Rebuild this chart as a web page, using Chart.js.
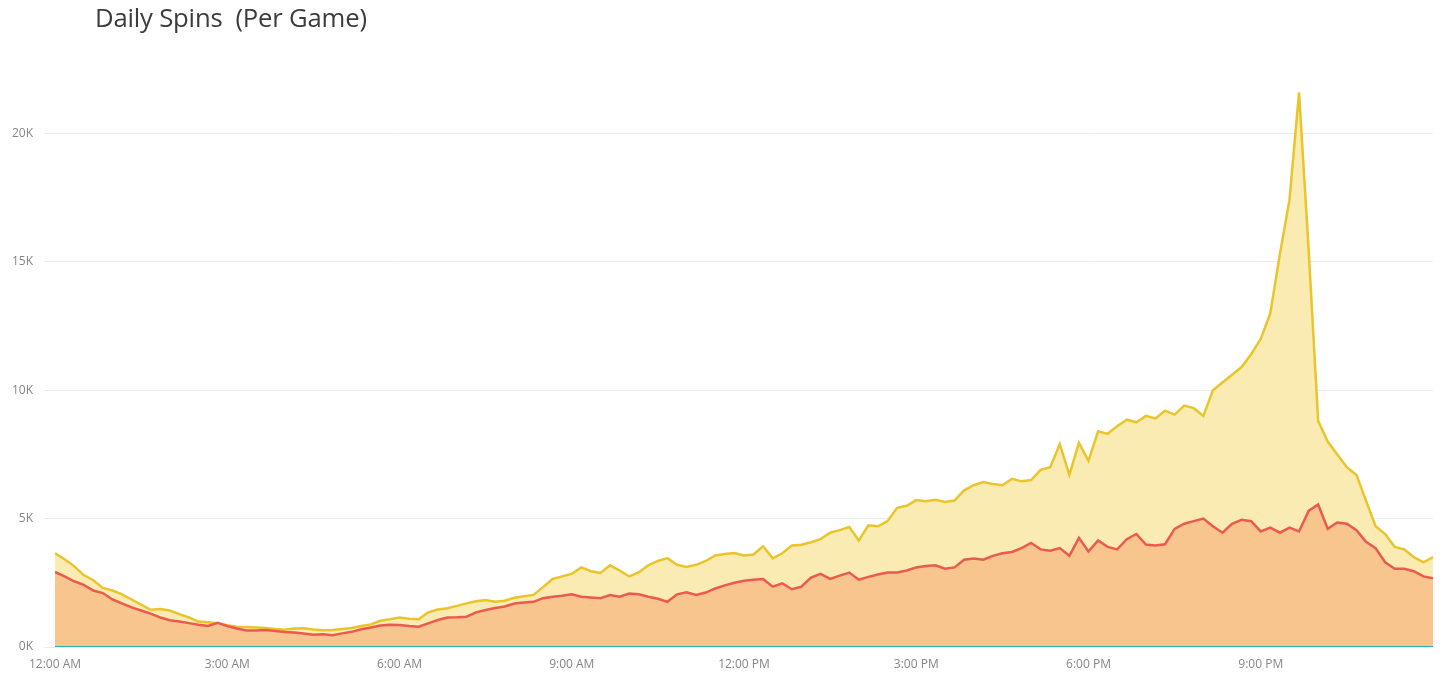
<!DOCTYPE html>
<html>
<head>
<meta charset="utf-8">
<script src="https://cdn.jsdelivr.net/npm/chart.js@4.4.1/dist/chart.umd.min.js"></script>
<style>
  html, body { margin: 0; padding: 0; background: #ffffff; }
  #wrap { position: absolute; left: 0; top: 0; width: 1442px; height: 675px; }
  #title { position: absolute; left: 95px; top: 0px; font-family: "Open Sans", "Noto Sans", sans-serif; font-size: 25.7px; color: #3c3c3c; white-space: pre; letter-spacing: -0.2px; }
  #chartBox { position: absolute; left: 0; top: 0; width: 1442px; height: 675px; }
</style>
</head>
<body>
<div id="wrap">
  <div id="chartBox"><canvas id="c" width="1442" height="675"></canvas></div>
  <div id="title">Daily Spins  (Per Game)</div>
</div>
<script>
// Sample spacing: every 10 minutes from 12:00 AM to midnight
const stepMinutes = 10;
const tickLabels = ["12:00 AM", "3:00 AM", "6:00 AM", "9:00 AM", "12:00 PM", "3:00 PM", "6:00 PM", "9:00 PM"];
const yTickValues = [0, 5000, 10000, 15000, 20000];

// Yellow series (spins, game A)
const yellowSeries = [
  3650, 3420, 3150, 2800, 2600, 2300, 2200, 2050, 1850, 1650,
  1450, 1480, 1420, 1280, 1150, 990, 960, 930, 850, 790,
  780, 760, 740, 700, 670, 720, 730, 680, 650, 660,
  700, 740, 820, 880, 1020, 1080, 1150, 1100, 1080, 1350,
  1460, 1510, 1600, 1700, 1780, 1830, 1760, 1800, 1920, 1980,
  2030, 2330, 2650, 2750, 2850, 3100, 2950, 2880, 3180, 2980,
  2750, 2900, 3180, 3350, 3460, 3200, 3120, 3200, 3350, 3560,
  3620, 3660, 3560, 3600, 3920, 3450, 3650, 3950, 3980, 4080,
  4200, 4450, 4550, 4670, 4150, 4740, 4700, 4900, 5420, 5500,
  5720, 5680, 5730, 5650, 5700, 6100, 6300, 6420, 6350, 6300,
  6550, 6450, 6500, 6900, 7000, 7900, 6700, 7950, 7250, 8400,
  8300, 8600, 8850, 8750, 9000, 8900, 9200, 9050, 9400, 9300,
  9000, 10000, 10300, 10600, 10900, 11400, 12000, 13000, 15300, 17400,
  21600, 15500, 8800, 8000, 7500, 7000, 6700, 5700, 4700, 4400,
  3900, 3800, 3500, 3300, 3500
];

// Red series (spins, game B)
const redSeries = [
  2920, 2750, 2560, 2420, 2200, 2100, 1850, 1700, 1540, 1420,
  1300, 1150, 1040, 990, 930, 870, 820, 940, 820, 720,
  640, 640, 660, 620, 580, 560, 530, 480, 500, 460,
  530, 590, 690, 760, 840, 870, 860, 820, 790, 920,
  1050, 1150, 1160, 1180, 1350, 1440, 1520, 1580, 1690, 1730,
  1760, 1900, 1960, 2000, 2050, 1960, 1930, 1900, 2020, 1960,
  2080, 2050, 1960, 1880, 1760, 2050, 2130, 2030, 2120, 2280,
  2400, 2500, 2580, 2620, 2650, 2350, 2480, 2250, 2350, 2700,
  2850, 2650, 2780, 2900, 2620, 2730, 2820, 2900, 2900, 2980,
  3100, 3150, 3180, 3050, 3100, 3400, 3450, 3400, 3550, 3650,
  3700, 3850, 4050, 3800, 3750, 3850, 3550, 4250, 3720, 4150,
  3900, 3800, 4200, 4400, 3990, 3950, 4000, 4600, 4800, 4900,
  5000, 4700, 4450, 4800, 4950, 4900, 4500, 4650, 4450, 4650,
  4500, 5300, 5550, 4600, 4850, 4800, 4550, 4100, 3850, 3300,
  3050, 3050, 2950, 2750, 2680
];

// Teal series (flat at zero)
const tealSeries = yellowSeries.map(() => 0);

const toPoints = arr => arr.map((v, i) => ({ x: i * stepMinutes, y: v }));

const FONT = '"Open Sans", "Noto Sans", sans-serif';

new Chart(document.getElementById('c'), {
  type: 'line',
  data: {
    datasets: [
      { label: 'Teal', data: toPoints(tealSeries), borderColor: '#3aa9b4', borderWidth: 2, pointRadius: 0, fill: false },
      { label: 'Red', data: toPoints(redSeries), borderColor: '#ec5a4e', backgroundColor: '#f8c58e', borderWidth: 2.5, pointRadius: 0, fill: 'origin', tension: 0 },
      { label: 'Yellow', data: toPoints(yellowSeries), borderColor: '#e9c52b', backgroundColor: '#f9ebb2', borderWidth: 2.5, pointRadius: 0, fill: 'origin', tension: 0 }
    ]
  },
  options: {
    responsive: false,
    animation: false,
    events: [],
    layout: { padding: { top: 82, right: 9, left: 0, bottom: 0 } },
    plugins: { legend: { display: false }, tooltip: { enabled: false }, title: { display: false } },
    scales: {
      x: {
        type: 'linear',
        min: 0,
        max: 1440,
        grid: { display: false, drawTicks: false },
        border: { display: false },
        afterBuildTicks: s => { s.ticks = tickLabels.map((_, i) => ({ value: i * 180 })); },
        afterFit: s => { s.height = 28; },
        ticks: {
          autoSkip: false,
          maxRotation: 0,
          padding: 10,
          color: '#858585',
          font: { family: FONT, size: 12 },
          callback: v => tickLabels[Math.round(v / 180)]
        }
      },
      y: {
        min: 0,
        max: 22000,
        grid: { color: '#ebebeb', lineWidth: 1, drawTicks: true, tickLength: 11 },
        border: { display: false },
        afterBuildTicks: s => { s.ticks = yTickValues.map(v => ({ value: v })); },
        afterFit: s => { s.width = 55; },
        ticks: {
          padding: 11,
          color: '#858585',
          font: { family: FONT, size: 12 },
          callback: v => (v / 1000) + 'K'
        }
      }
    }
  }
});
</script>
</body>
</html>
